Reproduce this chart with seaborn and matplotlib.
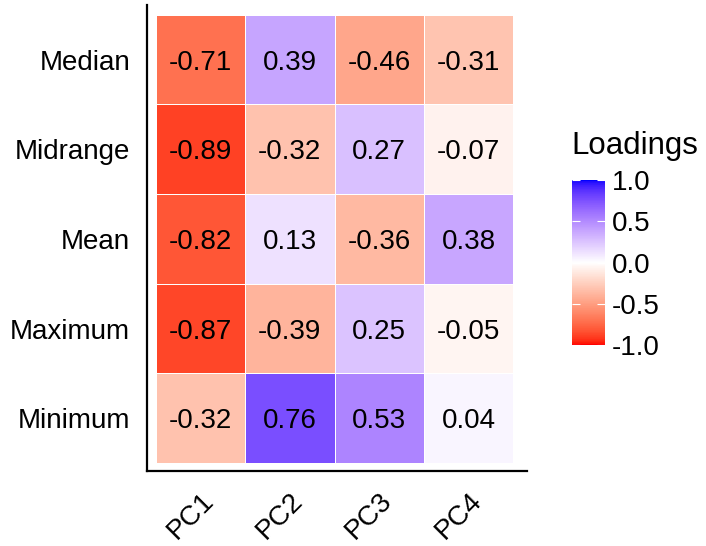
import numpy as np
import pandas as pd
import matplotlib
matplotlib.use("Agg")
import matplotlib.pyplot as plt
import seaborn as sns
from matplotlib.colors import ListedColormap

# --- data ---
rows = ["Median", "Midrange", "Mean", "Maximum", "Minimum"]
pcs = ["PC1", "PC2", "PC3", "PC4"]
pc1 = [-0.71, -0.89, -0.82, -0.87, -0.32]
pc2 = [0.39, -0.32, 0.13, -0.39, 0.76]
pc3 = [-0.46, 0.27, -0.36, 0.25, 0.53]
pc4 = [-0.31, -0.07, 0.38, -0.05, 0.04]

df = pd.DataFrame({"PC1": pc1, "PC2": pc2, "PC3": pc3, "PC4": pc4}, index=rows)


# --- red/white/blue gradient interpolated in Lab (like ggplot gradient2) ---
def srgb_to_lab(c):
    c = np.asarray(c, float)
    lin = np.where(c <= 0.04045, c / 12.92, ((c + 0.055) / 1.055) ** 2.4)
    M = np.array([[0.4124, 0.3576, 0.1805],
                  [0.2126, 0.7152, 0.0722],
                  [0.0193, 0.1192, 0.9505]])
    xyz = M @ lin / np.array([0.95047, 1.0, 1.08883])
    f = np.where(xyz > 0.008856, np.cbrt(xyz), 7.787 * xyz + 16 / 116)
    return np.array([116 * f[1] - 16, 500 * (f[0] - f[1]), 200 * (f[1] - f[2])])


def lab_to_srgb(lab):
    L, a, b = lab
    fy = (L + 16) / 116
    fx = fy + a / 500
    fz = fy - b / 200
    f = np.array([fx, fy, fz])
    xyz = np.where(f ** 3 > 0.008856, f ** 3, (f - 16 / 116) / 7.787)
    xyz = xyz * np.array([0.95047, 1.0, 1.08883])
    Minv = np.array([[3.2406, -1.5372, -0.4986],
                     [-0.9689, 1.8758, 0.0415],
                     [0.0557, -0.2040, 1.0570]])
    lin = Minv @ xyz
    lin = np.clip(lin, 0, 1)
    c = np.where(lin <= 0.0031308, 12.92 * lin, 1.055 * lin ** (1 / 2.4) - 0.055)
    return np.clip(c, 0, 1)


red, white, blue = srgb_to_lab([1, 0, 0]), srgb_to_lab([1, 1, 1]), srgb_to_lab([0, 0, 1])
cols = []
for t in np.linspace(-1, 1, 256):
    if t < 0:
        lab = white + (red - white) * (-t)
    else:
        lab = white + (blue - white) * t
    cols.append(lab_to_srgb(lab))
cmap = ListedColormap(cols)

# --- plot ---
plt.rcParams["font.family"] = ["Liberation Sans", "DejaVu Sans"]
fig = plt.figure(figsize=(7.06, 5.46), dpi=100)
ax = fig.add_axes([0.208, 0.137, 0.538, 0.854])
cax = fig.add_axes([0.810, 0.368, 0.047, 0.302])

sns.heatmap(df, ax=ax, cbar_ax=cax, cmap=cmap, vmin=-1, vmax=1,
            annot=True, fmt=".2f",
            annot_kws={"size": 20, "color": "black", "va": "center_baseline"},
            linewidths=0.6, linecolor="white")

ax.set_xlim(-0.1, 4.15)
ax.set_ylim(5.09, -0.11)
for side in ["left", "bottom"]:
    ax.spines[side].set_visible(True)
    ax.spines[side].set_linewidth(1.6)
    ax.spines[side].set_color("black")
ax.tick_params(length=0, labelsize=20, pad=12, labelcolor="black")
ax.set_xticklabels(pcs, rotation=45, ha="right", rotation_mode="anchor")
ax.set_yticklabels(rows, rotation=0, va="center_baseline")
ax.set_xlabel("")
ax.set_ylabel("")

cax.set_yticks([-1, -0.5, 0, 0.5, 1])
cax.set_yticklabels(["-1.0", "-0.5", "0.0", "0.5", "1.0"])
cax.tick_params(direction="in", color="white", length=6, width=0.8,
                left=True, right=True, labelsize=20, pad=5)
cax.set_title("Loadings", fontsize=22.5, loc="left", pad=19)
for s in cax.spines.values():
    s.set_visible(False)

fig.savefig("out.png", dpi=100)
